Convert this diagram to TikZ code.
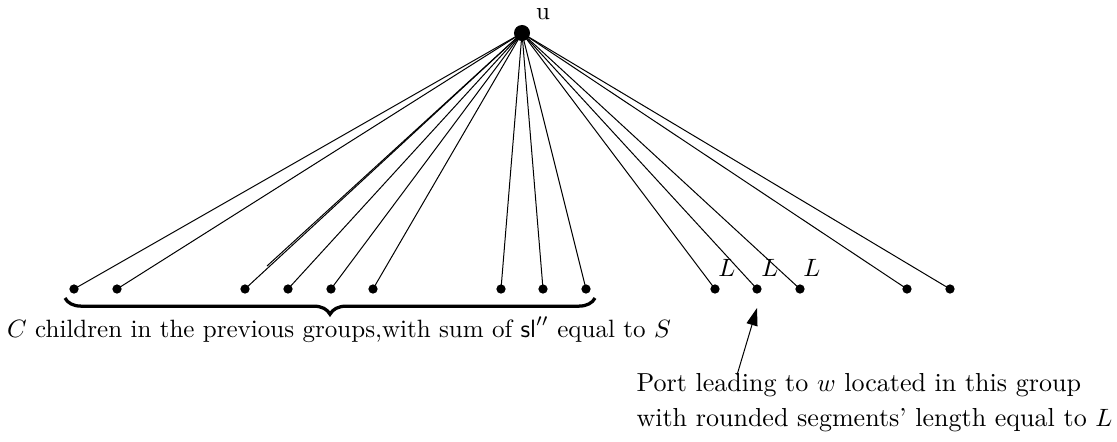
\documentclass[tikz,border=0pt]{standalone}
\usetikzlibrary{decorations.pathreplacing,arrows.meta}
\begin{document}
\begin{tikzpicture}[x=0.3994pt,y=-0.3994pt,
  leaf/.style={circle,fill,inner sep=0pt,minimum size=3.7pt},
  root/.style={circle,fill,inner sep=0pt,minimum size=6.4pt},
  edge/.style={line width=0.4pt},
  lab/.style={inner sep=0pt},
  port/.style={inner sep=0pt,anchor=west,font=\fontsize{10.4}{12}\selectfont}]
\useasboundingbox (0,0) rectangle (1117,441);
\node[root] (u) at (522,33) {};
\node[lab] (ulab) at (543,14) {u};
\foreach \i/\x in {1/74,2/117,3/245,4/288,5/331,6/373,7/501,8/543,9/586,10/715,11/757,12/800,13/907,14/950}{
  \node[leaf] (l\i) at (\x,289) {};
  \draw[edge] (u.center) -- (l\i.center);
}
\coordinate (dup) at (267,266);
\draw[edge] (u.center) -- (dup);
\coordinate (b1) at (65,298);
\coordinate (b2) at (595,298);
\draw[line width=1.3pt,decorate,decoration={brace,mirror,amplitude=6.5pt}] (b1) -- (b2);
\node[lab] (btext) at (339,330) {$C$ children in the previous groups,with sum of $\mathsf{sl}''$ equal to $S$};
\node[lab] (L1) at (727,268) {$L$};
\node[lab] (L2) at (770,268) {$L$};
\node[lab] (L3) at (812,268) {$L$};
\coordinate (atail) at (737,375);
\coordinate (ahead) at (757,308);
\draw[edge,-{Triangle[length=7pt,width=4.5pt]}] (atail) -- (ahead);
\node[port] (p1) at (636,385) {Port leading to $w$ located in this group};
\node[port] (p2) at (636,420) {with rounded segments' length equal to $L$};
\end{tikzpicture}
\end{document}
